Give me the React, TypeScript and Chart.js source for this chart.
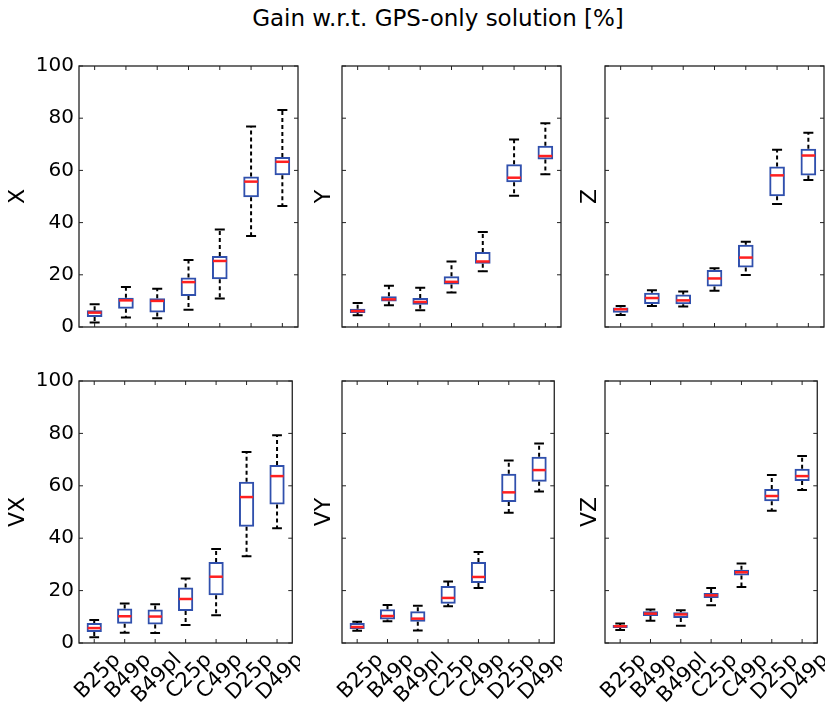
import React, { useEffect, useRef } from 'react';
import { Chart, registerables } from 'chart.js';

Chart.register(...registerables);

// ---------------- data ----------------
const categories = ['B25p', 'B49p', 'B49pl', 'C25p', 'C49p', 'D25p', 'D49p'];
const yTickValues = [0, 20, 40, 60, 80, 100];
const titleText = 'Gain w.r.t. GPS-only solution [%]';

// each entry: [lower whisker, Q1, median, Q3, upper whisker]
const statsX = [
  [1.7, 3.8, 5.5, 6.4, 8.7],
  [3.6, 7.0, 10.2, 11.2, 15.3],
  [3.4, 5.6, 10.0, 11.0, 14.7],
  [6.6, 11.9, 17.2, 19.0, 25.7],
  [10.9, 18.3, 25.3, 27.2, 37.4],
  [34.9, 49.7, 55.7, 57.7, 76.8],
  [46.4, 58.1, 63.3, 65.1, 83.1],
];
const statsY = [
  [4.5, 5.4, 6.1, 7.0, 9.2],
  [8.3, 9.8, 10.6, 11.8, 15.8],
  [6.4, 8.5, 9.6, 11.1, 15.0],
  [13.2, 16.3, 17.3, 19.4, 25.1],
  [21.4, 24.2, 25.1, 28.7, 36.4],
  [50.3, 55.5, 57.2, 62.4, 71.8],
  [58.5, 64.2, 65.5, 69.4, 78.1],
];
const statsZ = [
  [4.6, 5.5, 6.8, 7.5, 8.0],
  [8.0, 8.8, 11.1, 13.1, 14.1],
  [7.9, 8.7, 10.2, 12.5, 13.6],
  [13.9, 15.5, 18.6, 21.8, 22.5],
  [19.9, 22.8, 26.6, 31.5, 32.7],
  [47.1, 50.1, 58.1, 61.5, 67.9],
  [56.3, 58.0, 65.7, 68.3, 74.4],
];
const statsVX = [
  [2.2, 4.2, 5.7, 7.6, 8.8],
  [3.9, 7.3, 10.2, 13.2, 15.1],
  [3.8, 7.1, 10.1, 12.8, 14.8],
  [6.9, 12.2, 16.8, 21.2, 24.6],
  [10.6, 18.2, 25.3, 30.9, 35.9],
  [33.1, 44.4, 55.7, 61.5, 72.9],
  [43.8, 52.9, 63.7, 67.9, 79.3],
];
const statsVY = [
  [4.7, 5.3, 6.1, 7.6, 8.1],
  [8.3, 9.0, 10.3, 12.9, 14.5],
  [4.8, 8.1, 9.3, 12.1, 14.2],
  [14.0, 15.0, 17.2, 21.8, 23.5],
  [21.0, 22.9, 25.2, 30.9, 34.7],
  [49.7, 53.8, 57.5, 64.6, 69.7],
  [57.8, 61.5, 66.0, 71.1, 76.1],
];
const statsVZ = [
  [5.0, 5.7, 6.4, 6.9, 7.4],
  [8.5, 10.3, 11.2, 12.1, 12.8],
  [6.6, 9.5, 10.9, 11.7, 12.5],
  [14.4, 17.2, 18.2, 19.1, 21.0],
  [21.4, 25.8, 27.0, 28.0, 30.3],
  [50.5, 54.1, 56.1, 58.8, 64.1],
  [58.4, 61.8, 63.7, 66.5, 71.4],
];

const panelLabels = ['X', 'Y', 'Z', 'VX', 'VY', 'VZ'];
const panelStats = [statsX, statsY, statsZ, statsVX, statsVY, statsVZ];

// ---------------- layout / style ----------------
const FONT = 'DejaVu Sans';
const BOX_COLOR = '#3050ad';
const MEDIAN_COLOR = '#ff2020';

const colCanvasLeft = [0, 300, 562];
const colCanvasWidth = [300, 262, 263];
const colAxisWidth = [79, 42, 43];
const colRightPad = [2, 1, 1];
const colTitlePad = [5, 11, 15];

const rowCanvasTop = [40, 345];
const rowCanvasHeight = [305, 359];
const rowTopPad = [26, 36];
const rowXAxisHeight = [18, 61];

function makeBoxPlugin(stats: number[][]) {
  return {
    id: 'boxplotWhiskers',
    afterDatasetsDraw(chart: any) {
      const ctx = chart.ctx;
      const ys = chart.scales.y;
      const meta = chart.getDatasetMeta(0);
      meta.data.forEach((bar: any, i: number) => {
        const [lo, q1, med, q3, hi] = stats[i];
        const x = bar.x;
        const w = bar.width;
        const capHalf = w * 0.32;
        ctx.save();
        ctx.strokeStyle = '#000';
        ctx.lineWidth = 2;
        ctx.setLineDash([4, 3]);
        ctx.beginPath();
        ctx.moveTo(x, ys.getPixelForValue(q3));
        ctx.lineTo(x, ys.getPixelForValue(hi));
        ctx.moveTo(x, ys.getPixelForValue(q1));
        ctx.lineTo(x, ys.getPixelForValue(lo));
        ctx.stroke();
        ctx.setLineDash([]);
        ctx.beginPath();
        ctx.moveTo(x - capHalf, ys.getPixelForValue(hi));
        ctx.lineTo(x + capHalf, ys.getPixelForValue(hi));
        ctx.moveTo(x - capHalf, ys.getPixelForValue(lo));
        ctx.lineTo(x + capHalf, ys.getPixelForValue(lo));
        ctx.stroke();
        ctx.strokeStyle = MEDIAN_COLOR;
        ctx.lineWidth = 2.5;
        ctx.beginPath();
        ctx.moveTo(x - w / 2 + 1, ys.getPixelForValue(med));
        ctx.lineTo(x + w / 2 - 1, ys.getPixelForValue(med));
        ctx.stroke();
        ctx.restore();
      });
    },
    afterDraw(chart: any) {
      const ctx = chart.ctx;
      const { left, right, top, bottom } = chart.chartArea;
      const ys = chart.scales.y;
      const xs = chart.scales.x;
      ctx.save();
      ctx.strokeStyle = '#222';
      ctx.lineWidth = 1.3;
      ctx.strokeRect(left, top, right - left, bottom - top);
      ctx.lineWidth = 1;
      ctx.beginPath();
      yTickValues.forEach((v) => {
        const py = ys.getPixelForValue(v);
        ctx.moveTo(left, py);
        ctx.lineTo(left + 4, py);
        ctx.moveTo(right, py);
        ctx.lineTo(right - 4, py);
      });
      categories.forEach((_, i) => {
        const px = xs.getPixelForValue(i);
        ctx.moveTo(px, top);
        ctx.lineTo(px, top + 4);
        ctx.moveTo(px, bottom);
        ctx.lineTo(px, bottom - 4);
      });
      ctx.stroke();
      ctx.restore();
    },
  };
}

function Panel({ idx }: { idx: number }) {
  const ref = useRef<HTMLCanvasElement>(null);
  const row = Math.floor(idx / 3);
  const col = idx % 3;
  useEffect(() => {
    const stats = panelStats[idx];
    const chart = new Chart(ref.current as HTMLCanvasElement, {
      type: 'bar',
      data: {
        labels: categories,
        datasets: [
          {
            data: stats.map((s) => [s[1], s[3]]) as any,
            backgroundColor: 'rgba(0,0,0,0)',
            borderColor: BOX_COLOR,
            borderWidth: 2,
            borderSkipped: false,
            categoryPercentage: 1,
            barPercentage: 0.5,
          },
        ],
      },
      options: {
        animation: false,
        responsive: false,
        maintainAspectRatio: false,
        layout: {
          autoPadding: false,
          padding: { left: 0, top: rowTopPad[row], right: colRightPad[col], bottom: 0 },
        },
        plugins: { legend: { display: false }, tooltip: { enabled: false } },
        scales: {
          x: {
            type: 'category',
            offset: true,
            grid: { display: false, drawTicks: false },
            border: { display: false },
            ticks: {
              display: row === 1,
              minRotation: 45,
              maxRotation: 45,
              autoSkip: false,
              color: '#000',
              padding: 5,
              labelOffset: 23,
              font: { family: FONT, size: 21 },
            },
            afterFit: (s: any) => {
              s.height = rowXAxisHeight[row];
            },
          },
          y: {
            min: 0,
            max: 100,
            grid: { display: false, drawTicks: false },
            border: { display: false },
            ticks: {
              display: col === 0,
              stepSize: 20,
              color: '#000',
              padding: 5,
              font: { family: FONT, size: 20 },
            },
            title: {
              display: true,
              text: panelLabels[idx],
              color: '#000',
              font: { family: FONT, size: 22 },
              padding: { top: colTitlePad[col], bottom: 0 },
            },
            afterFit: (s: any) => {
              s.width = colAxisWidth[col];
            },
          },
        },
      } as any,
      plugins: [makeBoxPlugin(stats)],
    });
    return () => chart.destroy();
  }, [idx]);
  return (
    <canvas
      ref={ref}
      width={colCanvasWidth[col]}
      height={rowCanvasHeight[row]}
      style={{
        position: 'absolute',
        left: colCanvasLeft[col],
        top: rowCanvasTop[row],
        width: colCanvasWidth[col],
        height: rowCanvasHeight[row],
      }}
    />
  );
}

export default function App() {
  return (
    <div
      style={{
        position: 'absolute',
        left: 0,
        top: 0,
        width: 825,
        height: 704,
        background: '#fff',
        overflow: 'hidden',
      }}
    >
      <div
        style={{
          position: 'absolute',
          left: 188,
          width: 500,
          top: 4,
          textAlign: 'center',
          fontFamily: FONT,
          fontSize: 23,
          lineHeight: '28px',
          color: '#000',
        }}
      >
        {titleText}
      </div>
      {panelLabels.map((_, i) => (
        <Panel key={i} idx={i} />
      ))}
    </div>
  );
}
